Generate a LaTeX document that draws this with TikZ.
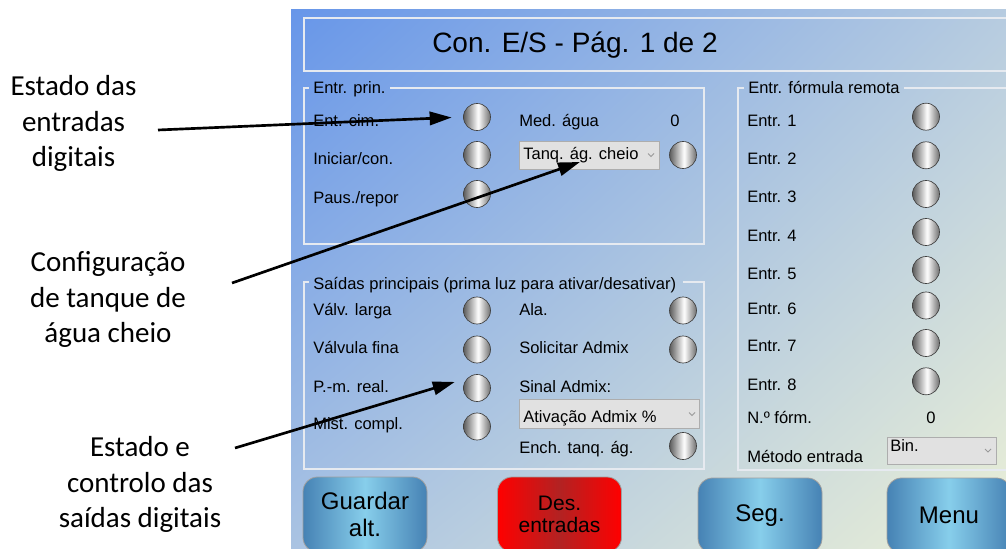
\documentclass[tikz,border=0pt]{standalone}
\usepackage{fontspec}
\setmainfont{Liberation Sans}
\newfontfamily\annfont{Carlito}
\usetikzlibrary{arrows.meta,shadings,calc}
\newdimen\pxu \pxu=0.75pt
\definecolor{framec}{HTML}{E6EAF0}
\definecolor{ddfill}{HTML}{E1E1E1}
\definecolor{ddborder}{HTML}{ADADAD}
\definecolor{steelc}{HTML}{4682B4}
\definecolor{skyc}{HTML}{87CEEB}
\definecolor{redmid}{HTML}{B22222}
\definecolor{lampdk}{HTML}{5C5C5C}
\definecolor{lampdkb}{HTML}{6E6E6E}
\definecolor{bgUL}{HTML}{6796E9}
\definecolor{bgUR}{HTML}{B7CCE0}
\definecolor{bgLL}{HTML}{ABC4E2}
\definecolor{bgLR}{HTML}{EDF1D6}
\pgfdeclarehorizontalshading{lampshade}{100bp}{color(0bp)=(lampdk); color(25bp)=(lampdk); color(52bp)=(white); color(75bp)=(lampdkb); color(100bp)=(lampdkb)}
\tikzset{
  lbl/.style={anchor=base west, inner sep=0, font=\fontsize{12.4}{14}\selectfont},
  lamp/.style={circle, minimum size=27\pxu, inner sep=0, draw=black!75, line width=0.5pt, shade, shading=lampshade},
  frame/.style={draw=framec, line width=0.8pt},
  dd/.style={draw=ddborder, fill=ddfill, line width=0.6pt, inner sep=0},
  chev/.style={draw=gray!80, line width=0.6pt},
  btn/.style={rounded corners=11pt, draw=gray!75, line width=0.6pt, minimum width=124\pxu, minimum height=75\pxu, align=center, inner sep=0},
  bluebtn/.style={btn, left color=steelc, right color=steelc, middle color=skyc},
  redbtn/.style={btn, left color=red, right color=red, middle color=redmid},
  ann/.style={anchor=base, inner sep=0, font=\annfont\fontsize{21.75}{26.6}\selectfont},
  arr/.style={-{Triangle[length=16.5pt,width=10pt]}, line width=2pt, black},
}
\begin{document}
\begin{tikzpicture}[x=0.75pt, y=-0.75pt]
\useasboundingbox (0,0) rectangle (1006,549);
\clip (0,0) rectangle (1006,549);
% screen background
\shade[upper left=bgUL, upper right=bgUR, lower left=bgLL, lower right=bgLR] (291,10) rectangle (1012,560);

% title
\draw[frame] (1012,18) -- (304,18) -- (304,71) -- (1012,71);
\node[anchor=base west, inner sep=0, font=\fontsize{21}{24}\selectfont] (title) at (432,53) {Con. E/S - Pág. 1 de 2};

% panel 1
\draw[frame] (390,88) -- (704,88) -- (704,244) -- (304,244) -- (304,88) -- (309,88);
\node[lbl] (p1) at (313,94) {Entr. prin.};
\node[lbl] (tEnt) at (313,127) {Ent. cim.};
\node[lbl] (tIni) at (313,165) {Iniciar/con.};
\node[lbl] (tPaus) at (313,203) {Paus./repor};
\node[lbl] (tMed) at (519,127) {Med. água};
\node[lbl] (tMed0) at (670,127) {0};
\node[lamp] (lampEnt) at (477,117) {};
\node[lamp] (lampIni) at (477,155) {};
\node[lamp] (lampPaus) at (477,194) {};
\node[lamp] (lampTanq) at (683,155) {};
\node[dd, minimum width=140\pxu, minimum height=28\pxu] (tanq) at (589,155) {};
\node[lbl] (tTanq) at (523,160) {Tanq. ág. cheio};
\draw[chev] (648,153.5) -- (651,156.5) -- (654,153.5);

% panel 2
\draw[frame] (683,282) -- (704,282) -- (704,469) -- (304,469) -- (304,282) -- (309,282);
\node[lbl] (p2) at (313,289) {Saídas principais (prima luz para ativar/desativar)};
\node[lbl] (tValv) at (313,315) {Válv. larga};
\node[lbl] (tFina) at (313,353) {Válvula fina};
\node[lbl] (tPm) at (313,392) {P.-m. real.};
\node[lbl] (tMist) at (313,429) {Mist. compl.};
\node[lbl] (tAla) at (519,315) {Ala.};
\node[lbl] (tSol) at (519,353) {Solicitar Admix};
\node[lbl] (tSin) at (519,392) {Sinal Admix:};
\node[lbl] (tEnch) at (519,453) {Ench. tanq. ág.};
\node[lamp] (lampValv) at (477,310.5) {};
\node[lamp] (lampFina) at (477,349.5) {};
\node[lamp] (lampPm) at (477,388) {};
\node[lamp] (lampMist) at (477,426.5) {};
\node[lamp] (lampAla) at (683,310.5) {};
\node[lamp] (lampSol) at (683,349.5) {};
\node[lamp] (lampEnch) at (683,446) {};
\node[dd, minimum width=180\pxu, minimum height=29\pxu] (ativ) at (609,413.5) {};
\node[lbl] (tAtiv) at (523,422) {Ativação Admix \%};
\draw[chev] (689,412.5) -- (692,415.5) -- (695,412.5);

% panel 3
\draw[frame] (904,88) -- (1012,88) -- (1012,470) -- (738,470) -- (738,88) -- (744,88);
\node[lbl] (p3) at (748,94) {Entr. fórmula remota};
\foreach \i/\tb/\ly in {1/126.7/116.7, 2/165/155.3, 3/202.7/194, 4/241/232, 5/279/270, 6/314/305.5, 7/351.7/343, 8/390/381.3}{
  \node[lbl] (tE\i) at (747,\tb) {Entr. \i};
  \node[lamp] (lampE\i) at (926,\ly) {};
}
\node[lbl] (tForm) at (747,423) {N.º fórm.};
\node[lbl] (tForm0) at (926,423) {0};
\node[lbl] (tMet) at (747,462) {Método entrada};
\node[dd, minimum width=109\pxu, minimum height=27\pxu] (bin) at (941.5,450.5) {};
\node[lbl] (tBin) at (890,451) {Bin.};
\draw[chev] (985,449) -- (988,452) -- (991,449);

% buttons
\node[bluebtn, font=\fontsize{18}{19.9}\selectfont] (bGuardar) at (365,514.5) {Guardar\\alt.};
\node[redbtn, font=\fontsize{15.75}{16.5}\selectfont] (bDes) at (559.5,514.5) {Des.\\entradas};
\node[bluebtn, font=\fontsize{18}{20}\selectfont] (bSeg) at (760,515.5) {Seg.};
\node[bluebtn, font=\fontsize{18}{20}\selectfont] (bMenu) at (949,515.5) {Menu};

% annotations
\node[ann] (ann1) at (73.5,96) {\begin{tabular}[t]{@{}c@{}}Estado das\\entradas\\digitais\end{tabular}};
\node[ann] (ann2) at (108,271.7) {\begin{tabular}[t]{@{}c@{}}Configuração\\de tanque de\\água cheio\end{tabular}};
\node[ann] (ann3) at (140,456.7) {\begin{tabular}[t]{@{}c@{}}Estado e\\controlo das\\saídas digitais\end{tabular}};
\coordinate (t1) at (158,130);
\coordinate (t2) at (232,283);
\coordinate (t3) at (235,448);
\coordinate (tip2) at ($(tanq.center)+(-9,7)$);
\draw[arr, shorten >=11.5\pxu] (t1) -- (lampEnt.west);
\draw[arr] (t2) -- (tip2);
\draw[arr, shorten >=13\pxu] (t3) -- (lampPm.north west);
\end{tikzpicture}
\end{document}
